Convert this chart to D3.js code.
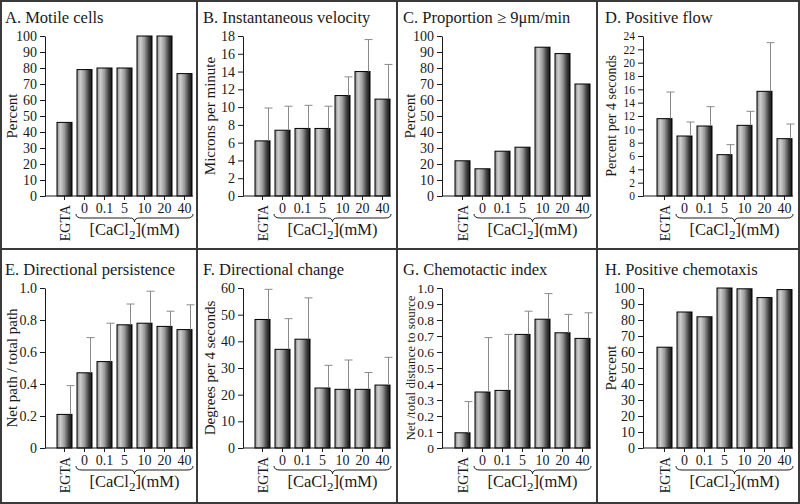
<!DOCTYPE html>
<html><head><meta charset="utf-8">
<script src="https://cdn.jsdelivr.net/npm/d3@7"></script>
<style>
html,body{margin:0;padding:0;background:#fff;}
svg{display:block;}
text{font-family:"Liberation Serif","Times New Roman",serif;fill:#1a1a1a;}
</style></head>
<body><svg id="c" width="800" height="504"></svg>
<script>
// ---- data ----
const categories = ["EGTA", "0", "0.1", "5", "10", "20", "40"];
const titles = ["A. Motile cells", "B. Instantaneous velocity", "C. Proportion \u2265 9\u03bcm/min", "D. Positive flow",
                "E. Directional persistence", "F. Directional change", "G. Chemotactic index", "H.  Positive chemotaxis"];
const yLabels = ["Percent", "Microns per minute", "Percent", "Percent per 4 seconds",
                 "Net path / total path", "Degrees per 4 seconds", "Net /total distance to source", "Percent"];

const motile = [46, 79, 80, 80, 100, 100, 76.5];
const velocity = [6.2, 7.4, 7.6, 7.6, 11.3, 14.0, 10.9];
const velocityErr = [3.7, 2.7, 2.6, 2.5, 2.1, 3.6, 3.9];
const proportion = [22, 17, 28, 30.5, 93, 89, 70];
const posFlow = [11.6, 9.0, 10.5, 6.2, 10.6, 15.7, 8.6];
const posFlowErr = [4.0, 2.1, 2.9, 1.5, 2.1, 7.3, 2.2];
const persistence = [0.21, 0.47, 0.54, 0.77, 0.78, 0.76, 0.74];
const persistenceErr = [0.18, 0.22, 0.24, 0.13, 0.20, 0.095, 0.155];
const dirChange = [48.2, 37.0, 40.8, 22.5, 22.0, 22.0, 23.6];
const dirChangeErr = [11.3, 11.5, 15.5, 8.5, 11.0, 6.3, 10.4];
const chemoIndex = [0.095, 0.35, 0.36, 0.71, 0.805, 0.72, 0.685];
const chemoIndexErr = [0.195, 0.34, 0.35, 0.145, 0.16, 0.115, 0.16];
const posChemo = [63, 85, 82, 100, 99.5, 94, 99];

const yMax = [100, 18, 100, 24, 1.0, 60, 1.0, 100];
const yTicks = [
  d3.range(0, 101, 10), d3.range(0, 19, 2), d3.range(0, 101, 10), d3.range(0, 25, 2),
  [0, 0.2, 0.4, 0.6, 0.8, 1.0], d3.range(0, 61, 10), [0,0.1,0.2,0.3,0.4,0.5,0.6,0.7,0.8,0.9,1.0], d3.range(0, 101, 10)
];
const seriesValues = [motile, velocity, proportion, posFlow, persistence, dirChange, chemoIndex, posChemo];
const seriesErrors = [null, velocityErr, null, posFlowErr, persistenceErr, dirChangeErr, chemoIndexErr, null];

// ---- layout ----
const svg = d3.select("#c");
const colX = [0, 198, 398, 600];
const rowY = [0, 252];
const axisXs = [45, 45, 44, 43];
const yLabelX = [12, 12, 12, 11];
const yLabelSize = [15, 15, 15, 14, 15, 15, 13, 15];
const tickSize = [14, 14, 14, 11.5, 14, 14, 13.5, 14];
const plotTop = 36, plotBottom = 196;

const defs = svg.append("defs");
const grad = defs.append("linearGradient").attr("id", "barGrad").attr("x1", "0").attr("x2", "1").attr("y1", "0").attr("y2", "0");
[[0, "#8c8c8c"], [0.22, "#cfcfcf"], [0.5, "#9a9a9a"], [0.8, "#3a3a3a"], [1, "#141414"]]
  .forEach(([o, c]) => grad.append("stop").attr("offset", o).attr("stop-color", c));

const fmt = (i) => {
  if (i === 4 || i === 6) return d => d === 0 ? "0" : d.toFixed(1);
  return d => String(d);
};

seriesValues.forEach((vals, i) => {
  const col = i % 4, row = Math.floor(i / 4);
  const g = svg.append("g").attr("transform", `translate(${colX[col]},${rowY[row]})`);
  const ax = axisXs[col];
  const x = d3.scaleBand().domain(categories).range([54.5, 194.5]).paddingInner(0.25).paddingOuter(0.125);
  const y = d3.scaleLinear().domain([0, yMax[i]]).range([plotBottom, plotTop]);

  // title
  g.append("text").attr("x", 5).attr("y", 23).attr("font-size", 16.5).text(titles[i]);

  // y label
  g.append("text").attr("transform", `translate(${yLabelX[col]},${(plotTop + plotBottom) / 2}) rotate(-90)`)
    .attr("text-anchor", "middle").attr("dy", "0.35em").attr("font-size", yLabelSize[i]).text(yLabels[i]);

  // bars
  g.selectAll("rect.bar").data(vals).join("rect")
    .attr("x", (d, k) => x(categories[k]))
    .attr("width", x.bandwidth())
    .attr("y", d => y(d))
    .attr("height", d => y(0) - y(d))
    .attr("fill", "url(#barGrad)")
    .attr("stroke", "#000").attr("stroke-width", 1);

  // error bars (upper only)
  const errs = seriesErrors[i];
  if (errs) {
    const eg = g.append("g").attr("stroke", "#8a8a8a").attr("stroke-width", 1);
    vals.forEach((v, k) => {
      const cx = x(categories[k]) + x.bandwidth() - 1.5;
      eg.append("line").attr("x1", cx).attr("x2", cx).attr("y1", y(v)).attr("y2", y(v + errs[k]));
      eg.append("line").attr("x1", cx - 4).attr("x2", cx + 4).attr("y1", y(v + errs[k])).attr("y2", y(v + errs[k]));
    });
  }

  // y axis
  const yAxis = d3.axisLeft(y).tickValues(yTicks[i]).tickFormat(fmt(i)).tickSize(5).tickSizeOuter(0).tickPadding(3);
  const ya = g.append("g").attr("transform", `translate(${ax},0)`).call(yAxis);
  ya.selectAll("text").attr("font-size", tickSize[i]).attr("font-family", "Liberation Serif").attr("fill", "#1a1a1a");
  ya.selectAll("line,path").attr("stroke", "#1a1a1a");

  // x axis
  g.append("line").attr("x1", ax).attr("x2", 193).attr("y1", y(0)).attr("y2", y(0)).attr("stroke", "#1a1a1a");
  const xa = g.append("g").attr("transform", `translate(0,${y(0)})`)
    .call(d3.axisBottom(x).tickSize(4).tickFormat(""));
  xa.select(".domain").remove();
  xa.selectAll("line").attr("stroke", "#1a1a1a");

  // category labels
  categories.forEach((c, k) => {
    const cx = x(c) + x.bandwidth() / 2;
    if (k === 0) {
      g.append("text").attr("transform", `translate(${cx + 5},${205}) rotate(-90)`)
        .attr("text-anchor", "end").attr("font-size", 14).text(c);
    } else {
      g.append("text").attr("x", cx).attr("y", 213).attr("text-anchor", "middle").attr("font-size", 14).text(c);
    }
  });

  // brace
  const bx1 = x(categories[1]) - 1, bx2 = 193, by = 214, mid = (bx1 + bx2) / 2;
  const p = d3.path();
  p.moveTo(bx1, by);
  p.quadraticCurveTo(bx1, by + 4, bx1 + 6, by + 4);
  p.lineTo(mid - 5, by + 4);
  p.quadraticCurveTo(mid, by + 4, mid, by + 8);
  p.quadraticCurveTo(mid, by + 4, mid + 5, by + 4);
  p.lineTo(bx2 - 6, by + 4);
  p.quadraticCurveTo(bx2, by + 4, bx2, by);
  g.append("path").attr("d", p.toString()).attr("fill", "none").attr("stroke", "#1a1a1a").attr("stroke-width", 1);

  // x title with subscript
  const t = g.append("text").attr("x", mid).attr("y", 235).attr("text-anchor", "middle").attr("font-size", 16.5);
  t.append("tspan").text("[CaCl");
  t.append("tspan").attr("font-size", 13).attr("dy", 4).text("2");
  t.append("tspan").attr("dy", -4).text("](mM)");
});

// frame and separators
const fr = svg.append("g").attr("stroke", "#3a3a3a").attr("stroke-width", 2).attr("fill", "none");
fr.append("rect").attr("x", 1).attr("y", 1).attr("width", 798).attr("height", 502);
[197, 397, 597].forEach(xv => fr.append("line").attr("x1", xv).attr("x2", xv).attr("y1", 0).attr("y2", 504));
fr.append("line").attr("x1", 0).attr("x2", 800).attr("y1", 249).attr("y2", 249);
</script></body></html>
